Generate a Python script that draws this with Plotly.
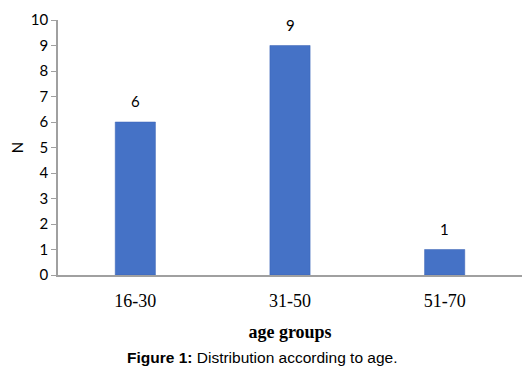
import plotly.graph_objects as go

categories = ["16-30", "31-50", "51-70"]
counts = [6, 9, 1]
y_ticks = list(range(0, 11))

fig = go.Figure()
fig.add_trace(go.Bar(
    x=categories, y=counts, width=0.26,
    marker=dict(color="#4572c6", line=dict(color="#3a63b5", width=0.5)),
    cliponaxis=False,
))

annotations = [
    dict(x=c, y=v, xref="x", yref="y", text=str(v), showarrow=False,
         yanchor="bottom", yshift=10, font=dict(family="Lato", size=15, color="#000000"))
    for c, v in zip(categories, counts)
]
annotations.append(
    dict(text="<b>Figure 1:</b> Distribution according to age.",
         xref="paper", yref="paper", x=0.44, y=-0.325, xanchor="center", yanchor="middle",
         showarrow=False, font=dict(family="Liberation Sans", size=15.5, color="#000000"))
)

fig.update_layout(
    width=524, height=366,
    margin=dict(l=50, r=10, t=12, b=99),
    paper_bgcolor="white", plot_bgcolor="white",
    showlegend=False,
    font=dict(family="Lato", color="#000000"),
    annotations=annotations,
)
fig.update_xaxes(
    automargin=False,
    showline=True, linecolor="#a0a0a0", linewidth=1.5,
    ticks="", tickfont=dict(family="Liberation Serif", size=18),
    ticklabelstandoff=9,
    title=dict(text="<b>age groups</b>", font=dict(family="Liberation Serif", size=18), standoff=15),
)
fig.update_yaxes(
    automargin=False,
    range=[0, 10], tickvals=y_ticks, showgrid=False, zeroline=False,
    showline=True, linecolor="#a0a0a0", linewidth=1.5,
    ticks="outside", ticklen=5, tickcolor="#a0a0a0",
    tickfont=dict(family="Lato", size=15),
    title=dict(text="N", font=dict(family="Lato", size=15), standoff=20),
)

fig.write_html("out.html")
